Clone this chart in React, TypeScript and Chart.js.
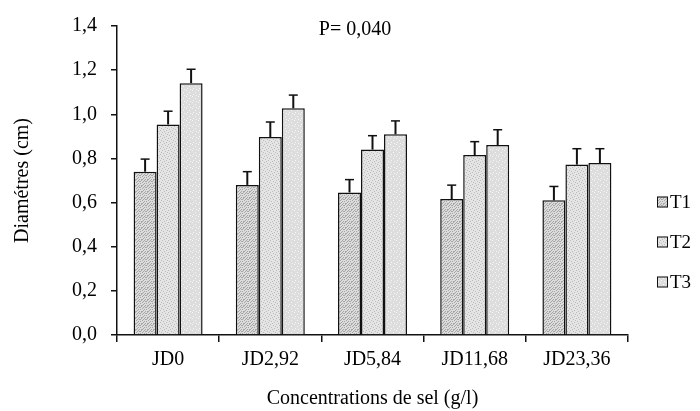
import React, { useEffect, useRef } from "react";
import { Chart, registerables } from "chart.js";

Chart.register(...registerables);

const categories = ["JD0", "JD2,92", "JD5,84", "JD11,68", "JD23,36"];
const seriesLabels = ["T1", "T2", "T3"];
const t1Values = [0.74, 0.68, 0.646, 0.616, 0.61];
const t2Values = [0.954, 0.897, 0.84, 0.815, 0.772];
const t3Values = [1.141, 1.027, 0.909, 0.861, 0.779];
const t1Errors = [0.057, 0.06, 0.058, 0.063, 0.063];
const t2Errors = [0.06, 0.068, 0.063, 0.061, 0.072];
const t3Errors = [0.063, 0.06, 0.061, 0.069, 0.065];
const yTickStep = 0.2;
const yMax = 1.4;
const pValueLabel = "P= 0,040";
const yTitle = "Diamétres (cm)";
const xTitle = "Concentrations de sel (g/l)";

const FONT = "'Liberation Serif', 'Times New Roman', serif";

function makePattern(base: string, dot: string, size: number, dots: number[][]) {
  const c = document.createElement("canvas");
  c.width = size;
  c.height = size;
  const g = c.getContext("2d")!;
  g.fillStyle = base;
  g.fillRect(0, 0, size, size);
  g.fillStyle = dot;
  dots.forEach(([x, y]) => g.fillRect(x, y, 1, 1));
  return g.createPattern(c, "repeat")!;
}

export default function App() {
  const ref = useRef<HTMLCanvasElement>(null);

  useEffect(() => {
    if (!ref.current) return;
    const p1 = makePattern("#dcdcdc", "#a6a6a6", 6, [
      [0, 0], [3, 0], [1, 1], [4, 2], [0, 3], [2, 3], [5, 4], [1, 5], [3, 5], [2, 1], [5, 1], [4, 5],
    ]);
    const p2 = makePattern("#e4e4e4", "#bcbcbc", 6, [
      [0, 0], [3, 1], [1, 3], [4, 4], [2, 5], [5, 2],
    ]);
    const p3 = makePattern("#dddddd", "#f6f6f6", 6, [
      [0, 0], [3, 2], [1, 4], [4, 5],
    ]);
    const patterns = [p1, p2, p3];
    const values = [t1Values, t2Values, t3Values];
    const errors = [t1Errors, t2Errors, t3Errors];

    const errorBars = {
      id: "errorBars",
      afterDatasetsDraw(chart: any) {
        const ctx = chart.ctx;
        const ys = chart.scales.y;
        ctx.save();
        ctx.strokeStyle = "#111";
        chart.data.datasets.forEach((ds: any, i: number) => {
          const meta = chart.getDatasetMeta(i);
          meta.data.forEach((el: any, j: number) => {
            const v = values[i][j];
            const e = errors[i][j];
            const yTop = ys.getPixelForValue(v);
            const yCap = ys.getPixelForValue(v + e);
            ctx.lineWidth = 2;
            ctx.beginPath();
            ctx.moveTo(el.x, yTop);
            ctx.lineTo(el.x, yCap);
            ctx.stroke();
            ctx.lineWidth = 1.5;
            ctx.beginPath();
            ctx.moveTo(el.x - 4.5, yCap);
            ctx.lineTo(el.x + 4.5, yCap);
            ctx.stroke();
          });
        });
        ctx.restore();
      },
    };

    const annotations = {
      id: "annotations",
      afterDraw(chart: any) {
        const ctx = chart.ctx;
        const area = chart.chartArea;
        ctx.save();
        ctx.fillStyle = "#000";
        ctx.font = `20px ${FONT}`;
        ctx.textBaseline = "middle";
        ctx.textAlign = "center";
        ctx.fillText(pValueLabel, 355, 30);
        const lx = area.right + 29;
        const ly0 = 202;
        const gap = 40;
        seriesLabels.forEach((lab, i) => {
          const y = ly0 + i * gap;
          ctx.fillStyle = patterns[i];
          ctx.fillRect(lx, y - 5.5, 11, 11);
          ctx.strokeStyle = "#111";
          ctx.lineWidth = 1;
          ctx.strokeRect(lx + 0.5, y - 5, 10, 10);
          ctx.fillStyle = "#000";
          ctx.font = `19px ${FONT}`;
          ctx.textAlign = "left";
          ctx.fillText(lab, lx + 13, y + 1);
        });
        ctx.restore();
      },
    };

    const chart = new Chart(ref.current, {
      type: "bar",
      data: {
        labels: categories,
        datasets: seriesLabels.map((lab, i) => ({
          label: lab,
          data: values[i],
          backgroundColor: patterns[i] as any,
          borderColor: "#111",
          borderWidth: 1.5,
          categoryPercentage: 0.675,
          barPercentage: 1,
        })),
      },
      options: {
        responsive: false,
        animation: false,
        devicePixelRatio: 1,
        layout: { padding: { top: 23, right: 72, left: 0, bottom: 0 } },
        plugins: { legend: { display: false }, tooltip: { enabled: false } },
        scales: {
          x: {
            afterFit: (s: any) => {
              s.height = 76;
            },
            grid: {
              display: true,
              drawOnChartArea: false,
              drawTicks: true,
              tickLength: 7,
              offset: true,
              color: "#111",
              lineWidth: 1.5,
            },
            border: { display: true, color: "#111", width: 1.5 },
            ticks: {
              color: "#000",
              font: { family: FONT, size: 20 },
              padding: 6,
              maxRotation: 0,
            },
            title: {
              display: true,
              text: xTitle,
              color: "#000",
              font: { family: FONT, size: 20 },
              padding: { top: 0, bottom: 0 },
            },
          },
          y: {
            min: 0,
            max: yMax,
            afterFit: (s: any) => {
              s.width = 117;
            },
            grid: {
              display: true,
              drawOnChartArea: false,
              drawTicks: true,
              tickLength: 6,
              color: "#111",
              lineWidth: 1.5,
            },
            border: { display: true, color: "#111", width: 1.5 },
            ticks: {
              stepSize: yTickStep,
              color: "#000",
              font: { family: FONT, size: 20 },
              padding: 14,
              callback: (v: any) => Number(v).toFixed(1).replace(".", ","),
            },
            title: {
              display: true,
              text: yTitle,
              color: "#000",
              font: { family: FONT, size: 20 },
              padding: { top: 11, bottom: 0 },
            },
          },
        },
      },
      plugins: [errorBars, annotations],
    });
    return () => chart.destroy();
  }, []);

  return (
    <div style={{ position: "absolute", left: 0, top: 0, width: 700, height: 411, background: "#fff" }}>
      <canvas ref={ref} width={700} height={411} />
    </div>
  );
}
